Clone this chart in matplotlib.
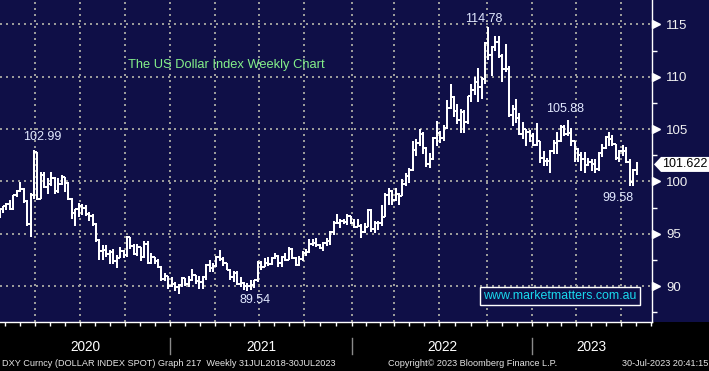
import numpy as np
import matplotlib
matplotlib.use("Agg")
import matplotlib.pyplot as plt
import matplotlib.transforms as mtransforms
from matplotlib.collections import LineCollection
from matplotlib.patches import Polygon, Rectangle
from matplotlib import font_manager

W, H, DPI = 709, 371, 100

# DXY weekly bars, week of 06-Jan-2020 .. week of 24-Jul-2023
# (weekly open = previous week's close, FX trades round the clock)
first_open = 96.84

close_2020 = [97.36, 97.61, 97.87, 97.39, 98.68, 99.10, 99.26, 98.13, 95.97, 98.74,
              102.82, 98.35, 100.65, 99.49, 99.74, 100.37, 99.06, 99.74, 100.38, 99.87,
              98.34, 96.94, 97.33, 97.67, 97.43, 96.91, 96.65, 95.97, 94.43, 93.35,
              93.45, 93.09, 93.26, 92.36, 92.71, 93.33, 92.93, 94.64, 93.84, 93.06,
              93.69, 92.77, 94.03, 92.23, 92.76, 92.39, 91.79, 90.70, 90.98, 90.02,
              90.24, 89.94]
high_2020 = [97.48, 97.66, 97.96, 98.19, 98.70, 99.16, 99.91, 99.40, 98.20, 98.90,
             102.99, 102.85, 100.90, 100.90, 100.30, 100.90, 100.40, 100.30, 100.60, 100.40,
             99.90, 98.40, 97.40, 97.90, 97.80, 97.70, 97.10, 96.90, 96.00, 94.50,
             93.90, 93.90, 93.40, 93.50, 93.00, 93.70, 93.40, 94.74, 94.70, 94.00,
             94.00, 93.70, 94.30, 94.30, 93.20, 92.80, 92.60, 91.90, 91.20, 91.00,
             90.90, 90.40]
low_2020 = [96.53, 96.97, 97.30, 97.30, 97.30, 98.50, 99.00, 97.90, 95.70, 94.65,
            98.30, 98.20, 98.30, 99.40, 98.80, 99.60, 98.80, 98.90, 99.70, 99.00,
            98.20, 96.40, 95.70, 96.60, 96.80, 96.70, 96.20, 95.70, 94.20, 92.50,
            92.50, 92.80, 92.10, 92.10, 91.74, 92.70, 92.70, 92.80, 93.50, 93.00,
            92.90, 92.40, 92.70, 92.10, 92.10, 92.10, 91.70, 90.50, 90.50, 89.70,
            89.90, 89.50]

close_2021 = [90.10, 90.77, 90.23, 90.58, 91.04, 90.48, 90.36, 90.89, 91.97, 91.68,
              91.92, 92.77, 92.56, 92.17, 91.56, 90.86, 91.27, 90.23, 90.31, 89.99,
              90.03, 90.13, 90.55, 92.23, 91.85, 92.23, 92.13, 92.67, 92.90, 92.17,
              92.80, 92.52, 93.53, 92.68, 92.03, 92.59, 93.20, 93.28, 94.04, 94.07,
              93.96, 93.65, 94.12, 94.32, 95.13, 96.03, 96.07, 96.18, 96.10, 96.68,
              96.00, 95.67]
high_2021 = [90.20, 90.90, 90.80, 91.00, 91.60, 91.10, 91.00, 91.00, 92.10, 92.50,
             92.20, 92.90, 93.40, 92.80, 92.20, 91.60, 91.40, 91.40, 90.90, 90.40,
             90.30, 90.60, 90.60, 92.40, 92.40, 92.70, 92.80, 92.80, 93.20, 93.00,
             92.90, 93.20, 93.70, 93.60, 92.80, 92.90, 93.30, 93.50, 94.50, 94.50,
             94.56, 94.00, 94.20, 94.60, 95.30, 96.20, 96.90, 96.40, 96.40, 96.90,
             96.70, 96.40]
low_2021 = [89.20, 89.90, 90.00, 89.90, 90.50, 90.20, 89.70, 89.70, 90.60, 91.30,
            91.30, 91.80, 92.40, 91.90, 91.50, 90.60, 90.40, 90.10, 89.90, 89.60,
            89.54, 89.60, 89.80, 90.40, 91.50, 91.80, 91.90, 92.00, 92.60, 91.80,
            91.80, 92.40, 92.50, 92.60, 91.90, 91.90, 92.40, 92.90, 93.20, 93.80,
            93.70, 93.50, 93.30, 93.80, 93.90, 94.90, 95.90, 95.50, 95.90, 95.80,
            95.90, 95.50]

close_2022 = [95.74, 95.17, 95.64, 97.27, 95.47, 96.07, 96.04, 96.62, 98.66, 99.13,
              98.19, 98.79, 98.62, 99.79, 100.50, 101.12, 102.96, 103.66, 104.56, 103.15,
              101.66, 102.14, 104.15, 104.63, 104.19, 105.14, 107.01, 108.07, 106.73, 105.85,
              106.60, 105.64, 108.14, 108.78, 109.54, 108.99, 109.76, 113.19, 112.12, 112.80,
              113.31, 111.99, 110.75, 110.78, 106.30, 106.94, 106.04, 104.55, 104.99, 104.70,
              104.32, 103.52]
high_2022 = [96.40, 95.90, 96.00, 97.40, 97.40, 96.20, 96.20, 97.70, 98.90, 99.40,
             99.20, 99.40, 98.90, 100.20, 100.80, 101.30, 103.90, 104.10, 105.00, 104.70,
             103.30, 102.70, 104.20, 105.80, 104.80, 105.40, 107.80, 109.30, 108.20, 107.40,
             106.90, 106.80, 108.20, 109.30, 110.00, 110.80, 110.00, 113.30, 114.78, 112.90,
             113.90, 113.90, 112.20, 113.10, 111.00, 107.30, 107.90, 106.50, 105.70, 105.00,
             104.90, 104.60]
low_2022 = [95.60, 94.60, 95.10, 95.60, 95.20, 95.10, 95.40, 95.70, 96.60, 97.70,
            97.70, 98.10, 97.70, 98.60, 99.60, 99.80, 101.00, 102.40, 103.40, 102.60,
            101.40, 101.30, 102.00, 103.40, 103.70, 103.90, 105.00, 106.90, 106.20, 105.50,
            104.60, 104.60, 105.50, 107.60, 108.30, 107.60, 107.90, 109.30, 111.60, 110.10,
            112.50, 111.80, 109.50, 110.50, 106.20, 105.30, 105.60, 104.40, 104.10, 103.40,
            103.80, 103.40]

close_2023 = [103.89, 102.20, 101.99, 101.93, 102.92, 103.63, 103.87, 105.21, 104.52, 104.58,
              103.86, 103.12, 102.51, 102.10, 101.55, 101.83, 101.66, 101.22, 102.68, 103.20,
              104.22, 104.01, 103.55, 102.25, 102.90, 102.91, 101.85, 99.92, 101.07, 101.622]
high_2023 = [105.60, 103.90, 102.90, 102.20, 103.00, 103.96, 104.70, 105.36, 105.40, 105.88,
             105.10, 103.90, 103.20, 102.80, 102.80, 102.20, 102.10, 102.10, 102.80, 103.60,
             104.30, 104.70, 104.40, 103.60, 103.00, 103.50, 103.30, 102.10, 101.20, 101.90]
low_2023 = [103.40, 101.80, 101.50, 101.50, 100.80, 102.60, 102.60, 103.80, 104.30, 104.30,
            103.40, 101.90, 101.90, 101.00, 100.80, 101.50, 101.00, 100.80, 101.00, 102.30,
            103.10, 103.40, 103.40, 102.00, 101.90, 102.40, 101.80, 99.58, 99.60, 100.60]

years = ["2020", "2021", "2022", "2023"]
y_ticks = [90, 95, 100, 105, 110, 115]
y_minor = [87.5, 92.5, 97.5, 102.5, 107.5, 112.5]
# quarter boundaries on the week axis (Apr-2020 .. Jul-2023)
quarters = [10.3, 23.4, 36.4, 49.5, 62.6, 75.4, 88.4, 102.4,
            114.6, 127.6, 141.6, 154.6, 167.4, 180.5]
year_starts = [49.5, 102.4, 154.6]

closes = np.array(close_2020 + close_2021 + close_2022 + close_2023)
highs = np.array(high_2020 + high_2021 + high_2022 + high_2023)
lows = np.array(low_2020 + low_2021 + low_2022 + low_2023)
opens = np.concatenate([[first_open], closes[:-1]])
weeks = np.arange(len(closes))

# labelled extremes: (week, which, text offset in px)
marks = [(10, "high", (8, 13)), (72, "low", (8, -9)), (142, "high", (-5, 8)),
         (165, "high", (-3, 11)), (183, "low", (-12, -12))]


def has_font(name):
    try:
        font_manager.findfont(font_manager.FontProperties(family=name),
                              fallback_to_default=False)
        return True
    except ValueError:
        return False


narrow = "Liberation Sans Narrow" if has_font("Liberation Sans Narrow") else None
plt.rcParams["font.family"] = ["Liberation Sans", "DejaVu Sans"]

NAVY = "#0f0f47"
GRID = "#9a9a9a"

fig = plt.figure(figsize=(W / DPI, H / DPI), dpi=DPI, facecolor="black")
fig.patches.append(Rectangle((0, 49 / H), 1, 322 / H, transform=fig.transFigure,
                             facecolor=NAVY, edgecolor="none", zorder=-10))

ax = fig.add_axes([0, 49 / H, 652 / W, 322 / H])
ax.set_facecolor(NAVY)
ax.set_xlim(0.12, 189.5)
ax.set_ylim(86.56, 117.34)

for s in ("top", "left"):
    ax.spines[s].set_visible(False)
for s in ("right", "bottom"):
    ax.spines[s].set_color("white")
    ax.spines[s].set_linewidth(1.0)

# dotted grid
for v in y_ticks:
    ax.axhline(v, color=GRID, lw=1.4, ls=(0, (0.9, 2.1)), zorder=1, antialiased=False)
for q in quarters:
    ax.axvline(q, color=GRID, lw=1.4, ls=(0, (0.9, 2.1)), zorder=1, antialiased=False)

# OHLC bars
segs = []
for i in weeks:
    segs.append([(i, lows[i]), (i, highs[i])])
    segs.append([(i - 0.5, opens[i]), (i, opens[i])])
    segs.append([(i, closes[i]), (i + 0.5, closes[i])])
ax.add_collection(LineCollection(segs, colors="white", linewidths=1.3,
                                 antialiaseds=False, zorder=3))

for i, which, off in marks:
    val = highs[i] if which == "high" else lows[i]
    ax.annotate(f"{val:.2f}", xy=(i, val), xytext=off, textcoords="offset pixels",
                ha="center", va="center", color="#e2e9ff", fontsize=9, zorder=4)

# right axis
ax.yaxis.tick_right()
ax.set_yticks(y_ticks)
ax.set_yticklabels([str(v) for v in y_ticks])
ax.set_yticks(y_minor, minor=True)
ax.tick_params(axis="y", which="major", length=0, pad=10, labelcolor="#f2f2f2",
               labelsize=9.5)
ax.tick_params(axis="y", which="minor", length=3.5, width=1, color="white",
               direction="out")
tri = mtransforms.offset_copy(
    mtransforms.blended_transform_factory(ax.transAxes, ax.transData),
    fig=fig, x=4, y=0, units="dots")
ax.plot([1.0] * len(y_ticks), y_ticks, transform=tri, marker=">", ms=5.5,
        color="white", ls="none", clip_on=False, zorder=5)

# monthly ticks along the bottom
qs = [quarters[0] - 13.05] + quarters + [quarters[-1] + 13.05]
months = np.concatenate([np.linspace(a, b, 4)[:-1] for a, b in zip(qs[:-1], qs[1:])])
months = months[(months > 0.12) & (months < 189.5)]
ax.set_xticks(months)
ax.set_xticklabels([])
ax.tick_params(axis="x", length=3, width=1, color="white", direction="out")

# year labels and separators
bounds = [0.12] + year_starts + [189.5]
xfig = mtransforms.blended_transform_factory(ax.transData, fig.transFigure)
for k, yr in enumerate(years):
    mid = (bounds[k] + bounds[k + 1]) / 2
    ax.text(mid, 1 - 347 / H, yr, transform=xfig, ha="center", va="center",
            color="white", fontsize=10.5 if narrow else 9.8,
            family=narrow or "Liberation Sans")
for b in year_starts:
    ax.plot([b, b], [1 - 338 / H, 1 - 354 / H], transform=xfig, color="#8a8a8a",
            lw=1, clip_on=False)

# title and watermark
fig.text(128 / W, 1 - 65 / H, "The US Dollar Index Weekly Chart", color="#84f08a",
         fontsize=9.3, ha="left", va="center")
fig.text(560 / W, 1 - 296 / H, "www.marketmatters.com.au", color="#19d9ee",
         fontsize=8.9, ha="center", va="center",
         bbox=dict(boxstyle="square,pad=0.25", facecolor=NAVY, edgecolor="white", lw=1))

# last price tag
fig.canvas.draw()
py = ax.transData.transform((0, closes[-1]))[1]
tag = Polygon([(654, py), (661, py + 7.5), (709, py + 7.5), (709, py - 7.5),
               (661, py - 7.5)], closed=True, transform=mtransforms.IdentityTransform(),
              facecolor="white", edgecolor="none", zorder=6)
fig.patches.append(tag)
fig.text(685 / W, py / H, f"{closes[-1]:.3f}", color="black", fontsize=9,
         ha="center", va="center", zorder=7)

# footer
fsize = 7.3 if narrow else 6.6
ffam = narrow or "Liberation Sans"
fig.text(2 / W, 1 - 363 / H,
         "DXY Curncy (DOLLAR INDEX SPOT) Graph 217  Weekly 31JUL2018-30JUL2023",
         color="#e6e6e6", fontsize=fsize, family=ffam, ha="left", va="center")
fig.text(388 / W, 1 - 363 / H, "Copyright\u00a9 2023 Bloomberg Finance L.P.",
         color="#e6e6e6", fontsize=fsize, family=ffam, ha="left", va="center")
fig.text(708 / W, 1 - 363 / H, "30-Jul-2023 20:41:15",
         color="#e6e6e6", fontsize=fsize, family=ffam, ha="right", va="center")

fig.savefig("out.png", dpi=DPI, facecolor="black")
